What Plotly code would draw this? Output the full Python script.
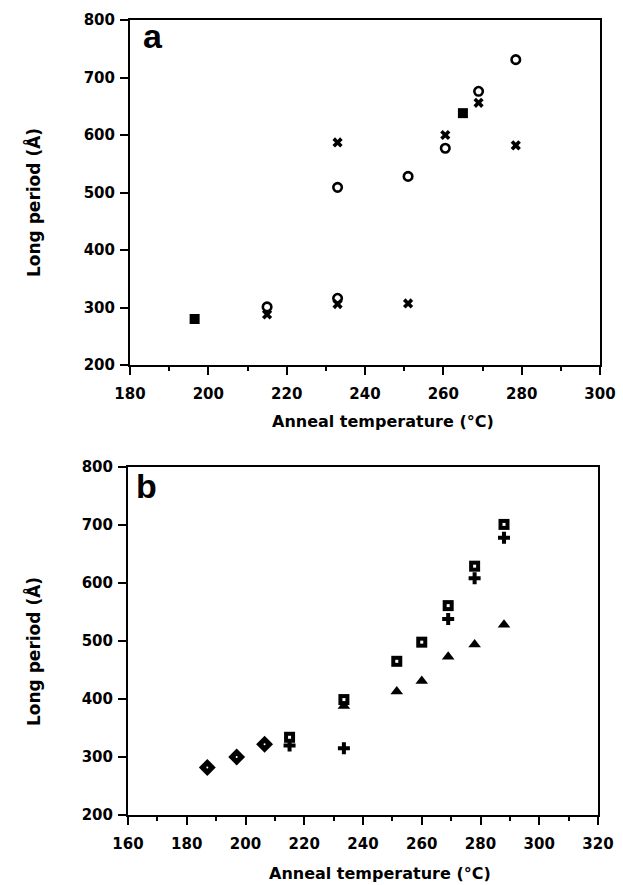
import plotly.graph_objects as go

# ---- Panel a data ----
a_circle_T = [215, 233, 233, 251, 260.5, 269, 278.5]
a_circle_L = [301, 316, 509, 528, 577, 676, 731]
a_cross_T = [215, 233, 233, 251, 260.5, 269, 278.5]
a_cross_L = [288, 306, 587, 307, 600, 656, 582]
a_square_T = [196.5, 265]
a_square_L = [280, 638]

# ---- Panel b data ----
b_square_T = [215, 233.5, 251.5, 260, 269, 278, 288]
b_square_L = [334, 399, 465, 498, 561, 629, 701]
b_plus_T = [215, 233.5, 269, 278, 288]
b_plus_L = [320, 315, 538, 608, 678]
b_tri_T = [233.5, 251.5, 260, 269, 278, 288]
b_tri_L = [388, 413, 431, 473, 494, 528]
b_diam_T = [187, 197, 206.5]
b_diam_L = [282, 300, 322]

W, H = 623, 885
FONT = "DejaVu Sans"

fig = go.Figure()

# panel a traces
fig.add_trace(go.Scatter(x=a_circle_T, y=a_circle_L, mode="markers", xaxis="x", yaxis="y",
                         marker=dict(symbol="circle-open", size=8.5, color="black", line=dict(width=2.6, color="black"))))
fig.add_trace(go.Scatter(x=a_cross_T, y=a_cross_L, mode="markers", xaxis="x", yaxis="y",
                         marker=dict(symbol="x", size=9, color="black", line=dict(width=0))))
fig.add_trace(go.Scatter(x=a_square_T, y=a_square_L, mode="markers", xaxis="x", yaxis="y",
                         marker=dict(symbol="square", size=10, color="black", line=dict(width=0))))

# panel b traces
fig.add_trace(go.Scatter(x=b_plus_T, y=b_plus_L, mode="markers", xaxis="x2", yaxis="y2",
                         marker=dict(symbol="cross", size=10, color="black", line=dict(width=0))))
fig.add_trace(go.Scatter(x=b_tri_T, y=b_tri_L, mode="markers", xaxis="x2", yaxis="y2",
                         marker=dict(symbol="triangle-up", size=11, color="black", line=dict(width=0))))
fig.add_trace(go.Scatter(x=b_square_T, y=b_square_L, mode="markers", xaxis="x2", yaxis="y2",
                         marker=dict(symbol="square", size=11, color="black", line=dict(width=0))))
fig.add_trace(go.Scatter(x=b_square_T, y=b_square_L, mode="markers", xaxis="x2", yaxis="y2",
                         marker=dict(symbol="square", size=3, color="white", line=dict(width=0))))
fig.add_trace(go.Scatter(x=b_diam_T, y=b_diam_L, mode="markers", xaxis="x2", yaxis="y2",
                         marker=dict(symbol="diamond", size=13, color="black", line=dict(width=0))))
fig.add_trace(go.Scatter(x=b_diam_T, y=b_diam_L, mode="markers", xaxis="x2", yaxis="y2",
                         marker=dict(symbol="circle", size=2, color="white", line=dict(width=0))))

tickfont = dict(family=FONT, size=15, color="black", weight="bold")
common = dict(showline=True, linecolor="black", linewidth=2, mirror=True, showgrid=False,
              zeroline=False, ticks="outside", tickcolor="black", tickwidth=2, ticklen=8,
              tickfont=tickfont, automargin=False)
minor = dict(dtick=10, ticks="outside", ticklen=4, tickwidth=2, tickcolor="black")

fig.update_layout(
    template="none",
    width=W, height=H, plot_bgcolor="white", paper_bgcolor="white", showlegend=False,
    margin=dict(l=0, r=0, t=0, b=0, autoexpand=False),
    xaxis=dict(domain=[130 / W, 600 / W], range=[180, 300], dtick=20, anchor="y",
               ticklabelstandoff=6, minor=minor, **common),
    yaxis=dict(domain=[1 - 365 / H, 1 - 20 / H], range=[200, 800], dtick=100, anchor="x",
               ticklabelstandoff=2, **common),
    xaxis2=dict(domain=[128 / W, 598 / W], range=[160, 320], dtick=20, anchor="y2",
                ticklabelstandoff=6, minor=minor, **common),
    yaxis2=dict(domain=[1 - 815 / H, 1 - 467 / H], range=[200, 800], dtick=100, anchor="x2",
                ticklabelstandoff=2, **common),
)

title_font = dict(family=FONT, size=16, color="black", weight="bold")
ytitle_font = dict(family=FONT, size=17, color="black", weight="bold")
annots = [
    dict(text="Anneal temperature (°C)", x=383 / W, y=1 - 421 / H, font=title_font),
    dict(text="Anneal temperature (°C)", x=380 / W, y=1 - 873 / H, font=title_font),
    dict(text="Long period (Å)", x=33 / W, y=1 - 203 / H, textangle=-90, font=ytitle_font),
    dict(text="Long period (Å)", x=33 / W, y=1 - 652 / H, textangle=-90, font=ytitle_font),
    dict(text="a", x=141 / W, y=1 - 36 / H, xanchor="left",
         font=dict(family="Liberation Sans", size=34, color="black", weight="bold")),
    dict(text="b", x=134 / W, y=1 - 486 / H, xanchor="left",
         font=dict(family="Liberation Sans", size=34, color="black", weight="bold")),
]
for a in annots:
    a.setdefault("xanchor", "center")
    fig.add_annotation(xref="paper", yref="paper", showarrow=False, yanchor="middle", **a)

fig.write_html("out.html")
